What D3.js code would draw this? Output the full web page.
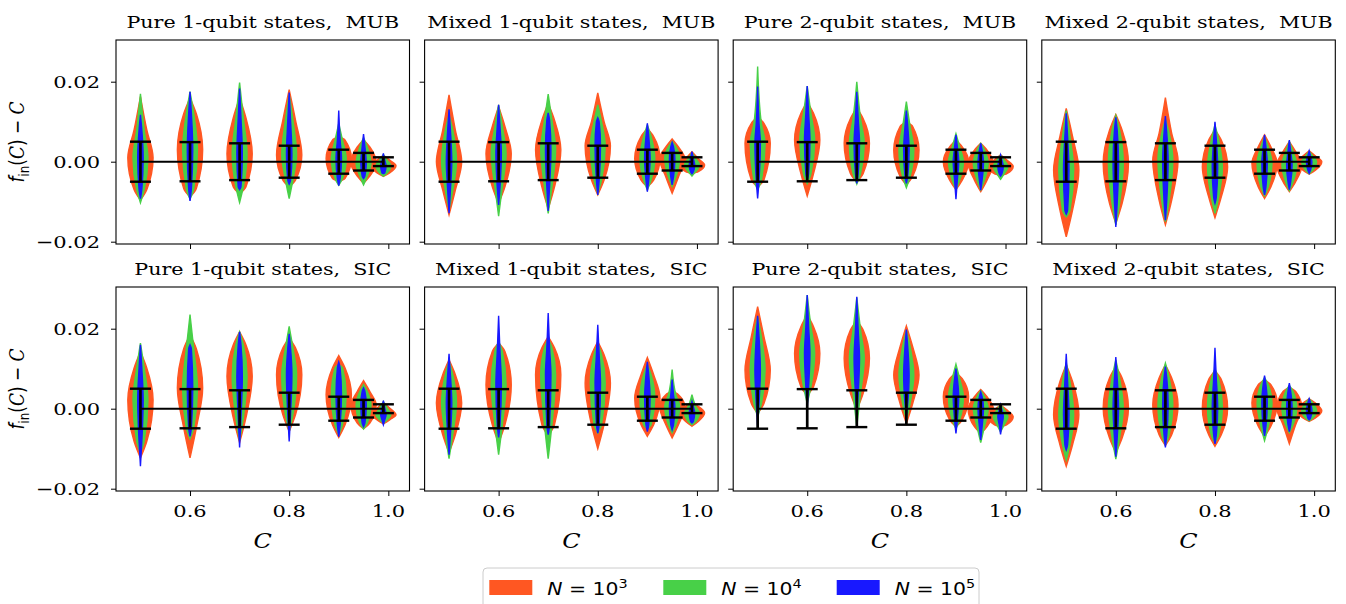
<!DOCTYPE html>
<html>
<head>
<meta charset="utf-8">
<script src="https://cdnjs.cloudflare.com/ajax/libs/d3/7.8.5/d3.min.js"></script>
<style>
  body { margin: 0; background: #fff; }
  text { font-family: "DejaVu Serif", serif; fill: #000; white-space: pre; }
</style>
</head>
<body>
<svg id="chart" width="1346" height="604"></svg>
<script>
// x positions of the violins and the half length of the black error bars
const cValues = [0.5, 0.6, 0.7, 0.8, 0.9, 0.95, 0.99];
const errHalf = [0.0050, 0.0049, 0.0046, 0.0040, 0.0030, 0.0022, 0.0011];
const xTicks = [0.6, 0.8, 1.0];
const yTicks = [-0.02, 0.00, 0.02];

const seriesExp = ['3', '4', '5'];
const seriesColors = ['#ff5722', '#48d048', '#1818ff'];
const seriesWidths = [0.051, 0.030, 0.011];

const titles = [
  'Pure 1-qubit states,\u00a0 MUB', 'Mixed 1-qubit states,\u00a0 MUB',
  'Pure 2-qubit states,\u00a0 MUB', 'Mixed 2-qubit states,\u00a0 MUB',
  'Pure 1-qubit states,\u00a0 SIC', 'Mixed 1-qubit states,\u00a0 SIC',
  'Pure 2-qubit states,\u00a0 SIC', 'Mixed 2-qubit states,\u00a0 SIC'
];

// one row per violin: [thin below, widest, thin above, lo/hi N=1e3, lo/hi N=1e4, lo/hi N=1e5]
const pure1Mub = [
  [-0.0070, 0.0010, 0.0080, -0.0096, 0.0163, -0.0103, 0.0170, -0.0092, 0.0117],
  [-0.0067, 0.0030, 0.0120, -0.0088, 0.0160, -0.0094, 0.0175, -0.0098, 0.0175],
  [-0.0063, 0.0020, 0.0110, -0.0080, 0.0160, -0.0102, 0.0198, -0.0070, 0.0183],
  [-0.0046, 0.0017, 0.0104, -0.0063, 0.0180, -0.0092, 0.0167, -0.0056, 0.0173],
  [-0.0042, 0.0008, 0.0054, -0.0050, 0.0063, -0.0059, 0.0096, -0.0060, 0.0128],
  [-0.0036, -0.0004, 0.0037, -0.0054, 0.0055, -0.0058, 0.0060, -0.0042, 0.0069],
  [-0.0028, -0.0010, 0.0004, -0.0037, 0.0016, -0.0036, 0.0018, -0.0030, 0.0021]
];
const mixed1Mub = [
  [-0.0071, 0.0000, 0.0079, -0.0133, 0.0167, -0.0120, 0.0117, -0.0129, 0.0131],
  [-0.0063, 0.0020, 0.0088, -0.0105, 0.0138, -0.0136, 0.0142, -0.0108, 0.0142],
  [-0.0063, 0.0030, 0.0104, -0.0118, 0.0146, -0.0129, 0.0169, -0.0123, 0.0122],
  [-0.0046, 0.0040, 0.0100, -0.0083, 0.0172, -0.0079, 0.0142, -0.0083, 0.0110],
  [-0.0046, 0.0008, 0.0063, -0.0063, 0.0083, -0.0071, 0.0092, -0.0075, 0.0096],
  [-0.0038, 0.0008, 0.0037, -0.0079, 0.0057, -0.0062, 0.0050, -0.0058, 0.0048],
  [-0.0025, -0.0008, 0.0008, -0.0030, 0.0025, -0.0036, 0.0022, -0.0030, 0.0025]
];
const pure2Mub = [
  [-0.0046, 0.0046, 0.0096, -0.0063, 0.0113, -0.0070, 0.0238, -0.0092, 0.0188],
  [-0.0030, 0.0054, 0.0121, -0.0086, 0.0150, -0.0055, 0.0189, -0.0046, 0.0189],
  [-0.0030, 0.0046, 0.0108, -0.0050, 0.0135, -0.0056, 0.0200, -0.0054, 0.0175],
  [-0.0037, 0.0029, 0.0088, -0.0058, 0.0100, -0.0065, 0.0150, -0.0054, 0.0128],
  [-0.0046, 0.0000, 0.0037, -0.0070, 0.0054, -0.0070, 0.0070, -0.0094, 0.0067],
  [-0.0046, -0.0004, 0.0029, -0.0075, 0.0046, -0.0070, 0.0046, -0.0071, 0.0046],
  [-0.0030, -0.0012, 0.0004, -0.0035, 0.0017, -0.0044, 0.0017, -0.0036, 0.0017]
];
const mixed2Mub = [
  [-0.0121, -0.0021, 0.0063, -0.0188, 0.0133, -0.0138, 0.0128, -0.0131, 0.0121],
  [-0.0104, -0.0004, 0.0079, -0.0154, 0.0118, -0.0158, 0.0115, -0.0163, 0.0111],
  [-0.0096, 0.0004, 0.0071, -0.0158, 0.0160, -0.0150, 0.0105, -0.0146, 0.0114],
  [-0.0088, -0.0013, 0.0054, -0.0140, 0.0080, -0.0129, 0.0092, -0.0104, 0.0100],
  [-0.0063, -0.0004, 0.0037, -0.0092, 0.0067, -0.0085, 0.0062, -0.0083, 0.0067],
  [-0.0050, -0.0008, 0.0025, -0.0075, 0.0050, -0.0072, 0.0050, -0.0070, 0.0054],
  [-0.0021, 0.0000, 0.0014, -0.0031, 0.0027, -0.0030, 0.0025, -0.0029, 0.0027]
];
const pure1Sic = [
  [-0.0082, 0.0022, 0.0102, -0.0123, 0.0143, -0.0110, 0.0164, -0.0144, 0.0160],
  [-0.0048, 0.0052, 0.0150, -0.0123, 0.0185, -0.0075, 0.0235, -0.0069, 0.0160],
  [-0.0023, 0.0081, 0.0160, -0.0085, 0.0192, -0.0080, 0.0192, -0.0097, 0.0192],
  [-0.0015, 0.0085, 0.0152, -0.0057, 0.0177, -0.0057, 0.0206, -0.0082, 0.0187],
  [-0.0040, 0.0035, 0.0102, -0.0072, 0.0133, -0.0065, 0.0110, -0.0070, 0.0117],
  [-0.0036, 0.0010, 0.0043, -0.0050, 0.0070, -0.0051, 0.0060, -0.0045, 0.0052],
  [-0.0028, -0.0015, 0.0002, -0.0038, 0.0015, -0.0036, 0.0018, -0.0040, 0.0020]
];
const mixed1Sic = [
  [-0.0065, 0.0014, 0.0085, -0.0110, 0.0122, -0.0125, 0.0118, -0.0115, 0.0137],
  [-0.0040, 0.0060, 0.0143, -0.0086, 0.0164, -0.0115, 0.0168, -0.0072, 0.0232],
  [-0.0040, 0.0085, 0.0152, -0.0068, 0.0180, -0.0125, 0.0175, -0.0065, 0.0239],
  [-0.0040, 0.0064, 0.0135, -0.0100, 0.0168, -0.0061, 0.0163, -0.0061, 0.0210],
  [-0.0040, 0.0027, 0.0085, -0.0069, 0.0128, -0.0050, 0.0110, -0.0057, 0.0117],
  [-0.0040, 0.0006, 0.0035, -0.0073, 0.0045, -0.0060, 0.0098, -0.0053, 0.0073],
  [-0.0032, -0.0011, 0.0006, -0.0044, 0.0015, -0.0040, 0.0035, -0.0036, 0.0018]
];
const pure2Sic = [
  [0.0013, 0.0097, 0.0180, -0.0012, 0.0255, -0.0020, 0.0230, -0.0045, 0.0232],
  [0.0055, 0.0138, 0.0205, 0.0034, 0.0235, 0.0013, 0.0284, 0.0001, 0.0284],
  [0.0038, 0.0126, 0.0197, -0.0003, 0.0220, -0.0045, 0.0278, -0.0020, 0.0280],
  [0.0013, 0.0084, 0.0155, -0.0037, 0.0207, -0.0028, 0.0196, -0.0020, 0.0198],
  [-0.0028, 0.0030, 0.0075, -0.0045, 0.0090, -0.0050, 0.0111, -0.0062, 0.0100],
  [-0.0045, 0.0000, 0.0030, -0.0062, 0.0048, -0.0085, 0.0045, -0.0078, 0.0042],
  [-0.0040, -0.0020, -0.0003, -0.0045, 0.0009, -0.0058, 0.0010, -0.0064, 0.0010]
];
const mixed2Sic = [
  [-0.0090, -0.0015, 0.0068, -0.0144, 0.0110, -0.0128, 0.0115, -0.0103, 0.0137],
  [-0.0073, 0.0002, 0.0077, -0.0110, 0.0105, -0.0126, 0.0122, -0.0120, 0.0129],
  [-0.0065, 0.0010, 0.0077, -0.0092, 0.0110, -0.0090, 0.0114, -0.0097, 0.0105],
  [-0.0065, 0.0002, 0.0073, -0.0094, 0.0095, -0.0085, 0.0100, -0.0088, 0.0152],
  [-0.0044, 0.0014, 0.0060, -0.0070, 0.0072, -0.0080, 0.0078, -0.0068, 0.0083],
  [-0.0040, 0.0002, 0.0043, -0.0088, 0.0053, -0.0060, 0.0058, -0.0057, 0.0064],
  [-0.0023, -0.0005, 0.0014, -0.0032, 0.0025, -0.0030, 0.0024, -0.0028, 0.0025]
];
const panelData = [pure1Mub, mixed1Mub, pure2Mub, mixed2Mub, pure1Sic, mixed1Sic, pure2Sic, mixed2Sic];

// relative width of the violin at [tip, thin point, widest, thin point, tip]
const profile = [0, 0.5, 1, 0.5, 0];

// layout (picture is a bit stretched sideways, so text is too)
const sx = 1.2, fs = 17.5;
const left0 = 116, colStep = 308.6, pw = 293.5, ph = 204;
const rowTops = [40, 287];

const svg = d3.select('#chart');

const x = d3.scaleLinear().domain([0.4507, 1.0427]).range([0, pw]);
const y = d3.scaleLinear().domain([-0.020575, 0.030425]).range([ph, 0]);

function label(g, px, py, anchor, size) {
  return g.append('text')
    .attr('transform', `translate(${px},${py}) scale(${sx},1)`)
    .attr('text-anchor', anchor)
    .style('font-size', size + 'px');
}
const fmt = v => (v < 0 ? '\u2212' : '') + Math.abs(v).toFixed(2);

panelData.forEach((rows, p) => {
  const col = p % 4, row = Math.floor(p / 4);
  const g = svg.append('g').attr('transform', `translate(${left0 + col * colStep},${rowTops[row]})`);

  // violins, one layer per N
  seriesColors.forEach((color, s) => {
    const w = seriesWidths[s];
    rows.forEach((r, i) => {
      const c = cValues[i];
      const vals = [r[3 + 2 * s], r[0], r[1], r[2], r[4 + 2 * s]];
      const pts = vals.map((v, k) => [v, profile[k]]);
      const area = d3.area()
        .y(d => y(d[0]))
        .x0(d => x(c - d[1] * w / 2))
        .x1(d => x(c + d[1] * w / 2))
        .curve(d3.curveMonotoneY);
      g.append('path').attr('d', area(pts))
        .attr('fill', color).attr('stroke', color).attr('stroke-width', 1.4);
    });
  });

  // zero line and error bars
  g.append('path')
    .attr('d', d3.line().x(d => x(d)).y(() => y(0))(cValues))
    .attr('stroke', '#000').attr('stroke-width', 2).attr('fill', 'none');
  cValues.forEach((c, i) => {
    const e = errHalf[i];
    g.append('line').attr('x1', x(c)).attr('x2', x(c)).attr('y1', y(-e)).attr('y2', y(e))
      .attr('stroke', '#000').attr('stroke-width', 2.7);
    [-e, e].forEach(v => {
      g.append('line').attr('x1', x(c) - 10.5).attr('x2', x(c) + 10.5).attr('y1', y(v)).attr('y2', y(v))
        .attr('stroke', '#000').attr('stroke-width', 2.4);
    });
  });

  // frame and ticks
  g.append('rect').attr('width', pw).attr('height', ph)
    .attr('fill', 'none').attr('stroke', '#000').attr('stroke-width', 1.1);
  g.append('g').call(d3.axisLeft(y).tickValues(yTicks).tickSize(5).tickFormat(''))
    .call(a => a.select('.domain').remove());
  g.append('g').attr('transform', `translate(0,${ph})`)
    .call(d3.axisBottom(x).tickValues(xTicks).tickSize(5).tickFormat(''))
    .call(a => a.select('.domain').remove());

  if (col === 0) {
    yTicks.forEach(v => label(g, -16, y(v) + 6, 'end', fs).text(fmt(v)));
    const yl = g.append('text')
      .attr('transform', `translate(-92,${ph / 2}) scale(${sx},1) rotate(-90)`)
      .attr('text-anchor', 'middle')
      .style('font-size', '17px');
    yl.append('tspan').style('font-family', 'DejaVu Sans').style('font-style', 'italic').text('f');
    yl.append('tspan').style('font-family', 'DejaVu Sans').style('font-size', '12px').attr('dy', 4).text('in');
    yl.append('tspan').style('font-family', 'DejaVu Sans').attr('dy', -4).text('(');
    yl.append('tspan').style('font-style', 'italic').text('C');
    yl.append('tspan').style('font-family', 'DejaVu Sans').text(') \u2212 ');
    yl.append('tspan').style('font-style', 'italic').text('C');
  }
  if (row === 1) {
    xTicks.forEach(v => label(g, x(v), ph + 26, 'middle', fs).text(v.toFixed(1)));
    label(g, pw / 2, ph + 57, 'middle', 20).style('font-style', 'italic').text('C');
  }
  label(g, pw / 2, -12, 'middle', 17.2).text(titles[p]);
});

// legend
const lg = svg.append('g');
lg.append('rect').attr('x', 483).attr('y', 568).attr('width', 496).attr('height', 44).attr('rx', 4)
  .attr('fill', '#fff').attr('stroke', '#cccccc').attr('stroke-width', 1);
const legendX = [489.3, 663.3, 836.7];
seriesColors.forEach((color, s) => {
  lg.append('rect').attr('x', legendX[s]).attr('y', 580).attr('width', 43).attr('height', 15).attr('fill', color);
  const t = label(lg, legendX[s] + 58, 595, 'start', 17).style('font-family', 'DejaVu Sans');
  t.append('tspan').style('font-style', 'italic').text('N');
  t.append('tspan').text(' = 10');
  t.append('tspan').style('font-size', '12px').attr('dy', -7).text(seriesExp[s]);
});
</script>
</body>
</html>
